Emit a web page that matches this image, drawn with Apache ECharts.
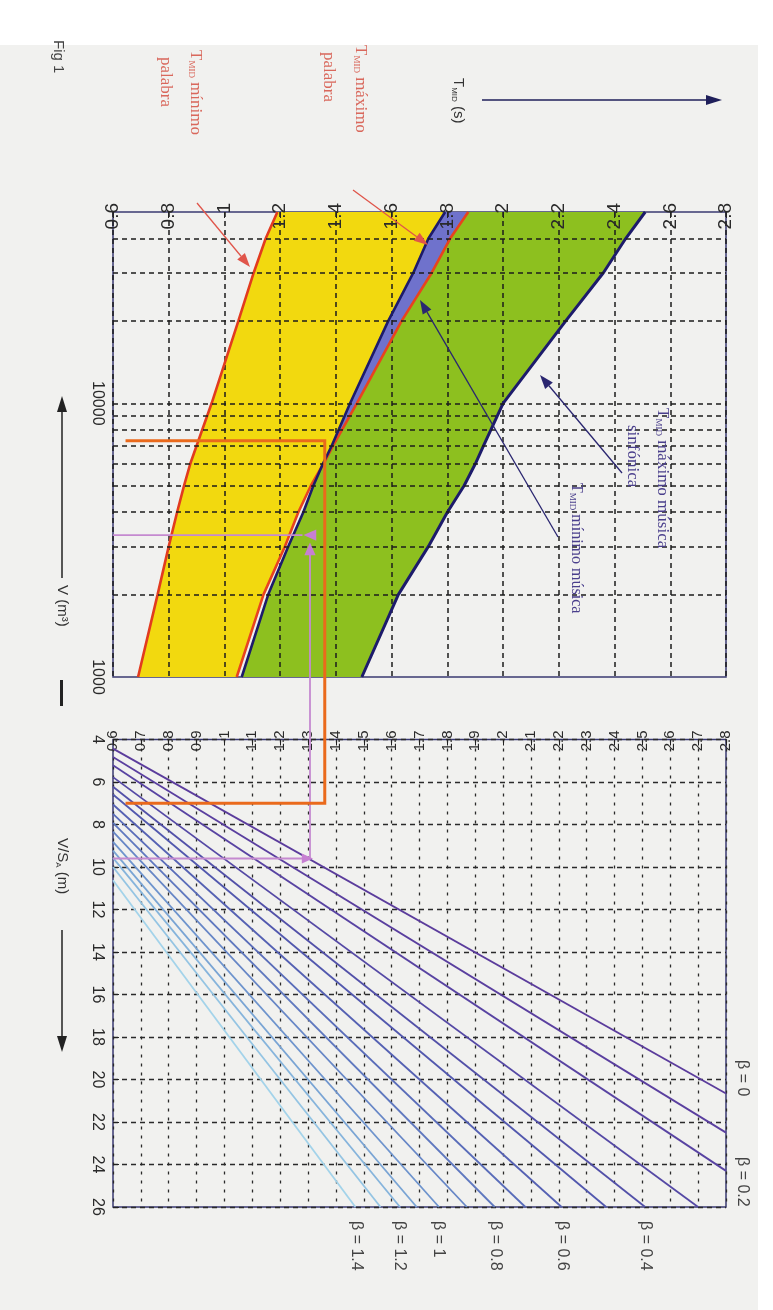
<!DOCTYPE html>
<html><head><meta charset="utf-8">
<script src="https://cdn.jsdelivr.net/npm/echarts@6/dist/echarts.min.js"></script>
<style>html,body{margin:0;padding:0;background:#ffffff;} #c{width:773px;height:1310px;}</style>
</head><body><div id="c"></div>
<script>
// ---------- DATA ----------
// Upper panel: T_MID (s) versus room volume V (m3), log scale
const volumes      = [1000, 2000, 3000, 4000, 5000, 6000, 7000, 10000, 20000, 30000, 40000, 50000];
const tMinPalabra  = [0.69, 0.76, 0.80, 0.83, 0.855, 0.877, 0.90, 0.954, 1.05, 1.105, 1.148, 1.19];
const tMaxPalabra  = [1.044, 1.14, 1.217, 1.265, 1.31, 1.355, 1.39, 1.475, 1.636, 1.744, 1.81, 1.875];
const tMinMusica   = [1.062, 1.157, 1.229, 1.283, 1.319, 1.353, 1.385, 1.451, 1.588, 1.678, 1.732, 1.792];
const tMaxMusica   = [1.493, 1.624, 1.732, 1.80, 1.86, 1.90, 1.93, 2.0, 2.225, 2.36, 2.44, 2.51];
const volumeGrid   = [2000, 3000, 4000, 5000, 6000, 7000, 8000, 9000, 10000, 20000, 30000, 40000];

// Lower panel: T_MID (s) versus V/S_A (m), one straight line per beta
const betaNames    = ['0','0.1','0.2','0.3','0.4','0.5','0.6','0.7','0.8','0.9','1','1.1','1.2','1.3','1.4'];
const betaStartVS  = [4.43, 4.82, 5.21, 5.77, 6.22, 6.59, 7.06, 7.5, 7.92, 8.33, 8.82, 9.23, 9.57, 10.0, 10.62]; // at T = 0.6
const betaEndT     = [2.8, 2.8, 2.8, 2.70, 2.51, 2.37, 2.21, 2.08, 1.97, 1.87, 1.77, 1.69, 1.63, 1.56, 1.47];
const betaEndVS    = [20.66, 22.5, 24.3, 26, 26, 26, 26, 26, 26, 26, 26, 26, 26, 26, 26];
const betaLabels   = ['β = 0', 'β = 0.2', 'β = 0.4', 'β = 0.6', 'β = 0.8', 'β = 1', 'β = 1.2', 'β = 1.4'];

// Worked-example guide lines
const orangeV = 7300, orangeT = 1.36, orangeVS = 7.0, orangeStartT = 0.645;
const pinkVS = 9.6, pinkT = 1.307, pinkTopV = 3300, pinkArrowV = 2900, pinkLeftEndT = 1.28;

// ---------- STYLE ----------
const betaColors = ['#5b3c9c','#5a3f9f','#5843a2','#5549a5','#5250a8','#5258ae','#5561b3','#596cb9',
                    '#5f78bf','#6686c6','#6e94cd','#79a4d4','#86b4dc','#94c4e3','#a3d3ea'];
const SANS = '"Liberation Sans", Arial, sans-serif';
const SERIF = '"Liberation Serif", "DejaVu Serif", serif';

const chart = echarts.init(document.getElementById('c'), null, {renderer: 'canvas', width: 773, height: 1310});

function band(lower, upper, color) {
  return {
    type: 'custom', xAxisIndex: 0, yAxisIndex: 0, z: 1, silent: true, clip: true,
    data: [[lower[0], volumes[0]]],
    renderItem: function (params, api) {
      const pts = [];
      for (let i = 0; i < volumes.length; i++) pts.push(api.coord([lower[i], volumes[i]]));
      for (let i = volumes.length - 1; i >= 0; i--) pts.push(api.coord([upper[i], volumes[i]]));
      return {type: 'polygon', shape: {points: pts}, style: {fill: color}};
    }
  };
}
function curve(vals, color, w) {
  return {
    type: 'line', xAxisIndex: 0, yAxisIndex: 0, z: 4, silent: true, showSymbol: false,
    data: vals.map((t, i) => [t, volumes[i]]),
    lineStyle: {color: color, width: w}
  };
}
const overlapUpper = tMinMusica.map((t, i) => Math.max(t, tMaxPalabra[i]));

const series = [
  band(tMinPalabra, tMaxPalabra, '#f2d90f'),
  band(tMinMusica, tMaxMusica, '#8dc01f'),
  band(tMinMusica, overlapUpper, '#6f72cc'),
  {
    type: 'line', xAxisIndex: 0, yAxisIndex: 0, z: 2, silent: true, showSymbol: false,
    data: [[0.6, 1000]], lineStyle: {opacity: 0},
    markLine: {
      silent: true, symbol: 'none', label: {show: false}, animation: false,
      lineStyle: {type: [5, 4], color: '#1c1c1c', width: 1.5},
      data: volumeGrid.map(v => ({yAxis: v}))
    }
  },
  curve(tMinPalabra, '#e23b1f', 2.6),
  curve(tMaxPalabra, '#e8431f', 2.6),
  curve(tMinMusica, '#1d1b6b', 2.6),
  curve(tMaxMusica, '#1d1b6b', 3)
];
betaNames.forEach((b, i) => {
  series.push({
    type: 'line', xAxisIndex: 1, yAxisIndex: 1, z: 3, silent: true, showSymbol: false,
    data: [[0.6, betaStartVS[i]], [betaEndT[i], betaEndVS[i]]],
    lineStyle: {color: betaColors[i], width: 1.8}
  });
});

const gridBase = {show: true, borderColor: '#3a3a72', borderWidth: 1.5, backgroundColor: 'rgba(0,0,0,0)', containLabel: false, outerBoundsMode: 'none'};

chart.setOption({
  animation: false,
  backgroundColor: '#ffffff',
  grid: [
    Object.assign({left: 113, top: 212, width: 613, height: 465}, gridBase),
    Object.assign({left: 113, top: 739.5, width: 613, height: 467.5}, gridBase)
  ],
  xAxis: [
    {gridIndex: 0, type: 'value', position: 'top', min: 0.6, max: 2.8, interval: 0.2, z: 2,
     axisLine: {show: false}, axisTick: {show: true, inside: true, length: 6, lineStyle: {color: '#222'}},
     axisLabel: {rotate: -90, align: 'right', verticalAlign: 'middle', margin: 9, fontSize: 19, color: '#2a2a2a', fontFamily: SANS},
     splitLine: {show: true, lineStyle: {type: [5, 4], color: '#1c1c1c', width: 1.5}}},
    {gridIndex: 1, type: 'value', position: 'top', min: 0.6, max: 2.8, interval: 0.1, z: 2,
     axisLine: {show: false}, axisTick: {show: true, inside: true, length: 6, lineStyle: {color: '#222'}},
     axisLabel: {rotate: -90, align: 'right', verticalAlign: 'middle', margin: 9, fontSize: 15, color: '#2a2a2a', fontFamily: SANS},
     splitLine: {show: true, lineStyle: {type: [3, 6], color: '#2a2a2a', width: 1.3}}}
  ],
  yAxis: [
    {gridIndex: 0, type: 'log', logBase: 10, min: 1000, max: 50000, z: 2,
     axisLine: {show: false}, axisTick: {show: false}, splitLine: {show: false},
     axisLabel: {rotate: -90, align: 'center', verticalAlign: 'middle', margin: 16, fontSize: 16, color: '#2a2a2a', fontFamily: SANS,
                 showMaxLabel: false, formatter: v => String(Math.round(v))}},
    {gridIndex: 1, type: 'value', min: 4, max: 26, interval: 2, inverse: true, z: 2,
     axisLine: {show: false}, axisTick: {show: true, inside: true, length: 6, lineStyle: {color: '#222'}},
     axisLabel: {rotate: -90, align: 'center', verticalAlign: 'middle', margin: 16, fontSize: 16, color: '#2a2a2a', fontFamily: SANS},
     splitLine: {show: true, lineStyle: {type: [5, 4], color: '#2a2a2a', width: 1.3}}}
  ],
  series: series
});

// ---------- annotations ----------
function vtext(x, y, text, extra) {
  return {type: 'text', x: x, y: y, rotation: -Math.PI / 2, silent: true, z: 20,
          style: Object.assign({text: text, fill: '#333', fontSize: 16, fontFamily: SANS, align: 'left', verticalAlign: 'middle'}, extra || {})};
}
function arrow(x1, y1, x2, y2, color, w, hl, hw) {
  const dx = x2 - x1, dy = y2 - y1, L = Math.hypot(dx, dy), ux = dx / L, uy = dy / L;
  const bx = x2 - ux * hl, by = y2 - uy * hl;
  return [
    {type: 'line', silent: true, z: 20, shape: {x1: x1, y1: y1, x2: bx, y2: by}, style: {stroke: color, lineWidth: w}},
    {type: 'polygon', silent: true, z: 20, shape: {points: [[x2, y2], [bx - uy * hw, by + ux * hw], [bx + uy * hw, by - ux * hw]]}, style: {fill: color}}
  ];
}
function tri(x, y, dir, color, s) {
  const pts = dir === 'up' ? [[x, y - s], [x - s * 0.7, y + s * 0.6], [x + s * 0.7, y + s * 0.6]]
            : dir === 'left' ? [[x - s, y], [x + s * 0.6, y - s * 0.7], [x + s * 0.6, y + s * 0.7]]
            : [[x + s, y], [x - s * 0.6, y - s * 0.7], [x - s * 0.6, y + s * 0.7]];
  return {type: 'polygon', silent: true, z: 21, shape: {points: pts}, style: {fill: color}};
}
const subRich = (size, color, fam) => ({
  s: {fontSize: Math.round(size * 0.55), fontFamily: fam, fill: color, verticalAlign: 'bottom', padding: [Math.round(size * 0.35), 0, 0, 0]}
});

const P0 = (t, v) => chart.convertToPixel({gridIndex: 0}, [t, v]);
const P1 = (t, vs) => chart.convertToPixel({gridIndex: 1}, [t, vs]);

const oA = P0(orangeStartT, orangeV), oB = P0(orangeT, orangeV), oC = P1(orangeT, orangeVS), oD = P1(orangeStartT, orangeVS);
const pA = P1(0.6, pinkVS), pB = P1(pinkT, pinkVS), pC = P0(pinkT, pinkArrowV), pD = P0(0.6, pinkTopV), pE = P0(pinkLeftEndT, pinkTopV);

const redC = '#d9685c', navyC = '#4a3f8c';
const graphics = [
  {type: 'rect', silent: true, z: -10, shape: {x: 0, y: 45, width: 758, height: 1265}, style: {fill: '#f1f1ef'}},
  // orange guide
  {type: 'polyline', silent: true, z: 22, shape: {points: [oA, oB, oC, oD]}, style: {stroke: '#ea6a1c', lineWidth: 3, fill: null}},
  // pink guide
  {type: 'polyline', silent: true, z: 21, shape: {points: [pA, pB, [pB[0], pC[1]]]}, style: {stroke: '#c58ad0', lineWidth: 1.8, fill: null}},
  {type: 'line', silent: true, z: 21, shape: {x1: pD[0], y1: pD[1], x2: pE[0], y2: pE[1]}, style: {stroke: '#c58ad0', lineWidth: 1.8}},
  tri(pB[0] - 4, pB[1], 'right', '#c77fd2', 7),
  tri(pC[0], pC[1], 'up', '#c77fd2', 8),
  tri(pE[0] + 9, pE[1], 'left', '#c77fd2', 8),
  // top-left red captions
  vtext(195, 50, '{t|T}{s|MID} mínimo', {fill: redC, fontFamily: SERIF, fontSize: 17, rich: Object.assign({t: {fontSize: 17, fontFamily: SERIF, fill: redC}}, subRich(17, redC, SERIF))}),
  vtext(165, 57, 'palabra', {fill: redC, fontFamily: SERIF, fontSize: 17}),
  vtext(360, 45, '{t|T}{s|MID} máximo', {fill: redC, fontFamily: SERIF, fontSize: 17, rich: Object.assign({t: {fontSize: 17, fontFamily: SERIF, fill: redC}}, subRich(17, redC, SERIF))}),
  vtext(328, 52, 'palabra', {fill: redC, fontFamily: SERIF, fontSize: 17}),
  ...arrow(197, 203, 250, 267, '#e0554a', 1.3, 14, 5),
  ...arrow(353, 190, 428, 245, '#e0554a', 1.3, 14, 5),
  // navy captions
  vtext(662, 408, '{t|T}{s|MID} máximo música', {fill: navyC, fontFamily: SERIF, fontSize: 17, rich: Object.assign({t: {fontSize: 17, fontFamily: SERIF, fill: navyC}}, subRich(17, navyC, SERIF))}),
  vtext(632, 425, 'sinfónica', {fill: navyC, fontFamily: SERIF, fontSize: 17}),
  vtext(576, 483, '{t|T}{s|MID} mínimo música', {fill: navyC, fontFamily: SERIF, fontSize: 16, rich: Object.assign({t: {fontSize: 16, fontFamily: SERIF, fill: navyC}}, subRich(16, navyC, SERIF))}),
  ...arrow(622, 473, 540, 375, '#2a2670', 1.3, 14, 5),
  ...arrow(558, 537, 420, 300, '#2a2670', 1.3, 14, 5),
  // axis captions
  ...arrow(482, 100, 722, 100, '#1f1f5a', 1.5, 16, 5),
  vtext(458, 78, '{t|T}{s|MID} (s)', {fill: '#333', fontSize: 15, rich: Object.assign({t: {fontSize: 15, fill: '#333'}}, subRich(15, '#333', SANS))}),
  vtext(58, 40, 'Fig 1', {fill: '#444', fontSize: 15}),
  ...arrow(62, 578, 62, 396, '#222', 1.5, 16, 5),
  vtext(62, 585, 'V (m³)', {fill: '#333', fontSize: 15}),
  vtext(62, 838, '{t|V/S}{s|A} (m)', {fill: '#333', fontSize: 15, rich: Object.assign({t: {fontSize: 15, fill: '#333'}}, subRich(15, '#333', SANS))}),
  ...arrow(62, 930, 62, 1052, '#222', 1.5, 16, 5),
  {type: 'rect', silent: true, z: 20, shape: {x: 60, y: 680, width: 3, height: 26}, style: {fill: '#222'}},
  // beta labels
  vtext(742, 1060, betaLabels[0], {fill: '#444'}),
  vtext(742, 1157, betaLabels[1], {fill: '#444'}),
  vtext(645, 1221, betaLabels[2], {fill: '#444'}),
  vtext(562, 1221, betaLabels[3], {fill: '#444'}),
  vtext(495, 1221, betaLabels[4], {fill: '#444'}),
  vtext(438, 1221, betaLabels[5], {fill: '#444'}),
  vtext(399, 1221, betaLabels[6], {fill: '#444'}),
  vtext(356, 1221, betaLabels[7], {fill: '#444'})
];
chart.setOption({graphic: graphics});
</script>
</body></html>
